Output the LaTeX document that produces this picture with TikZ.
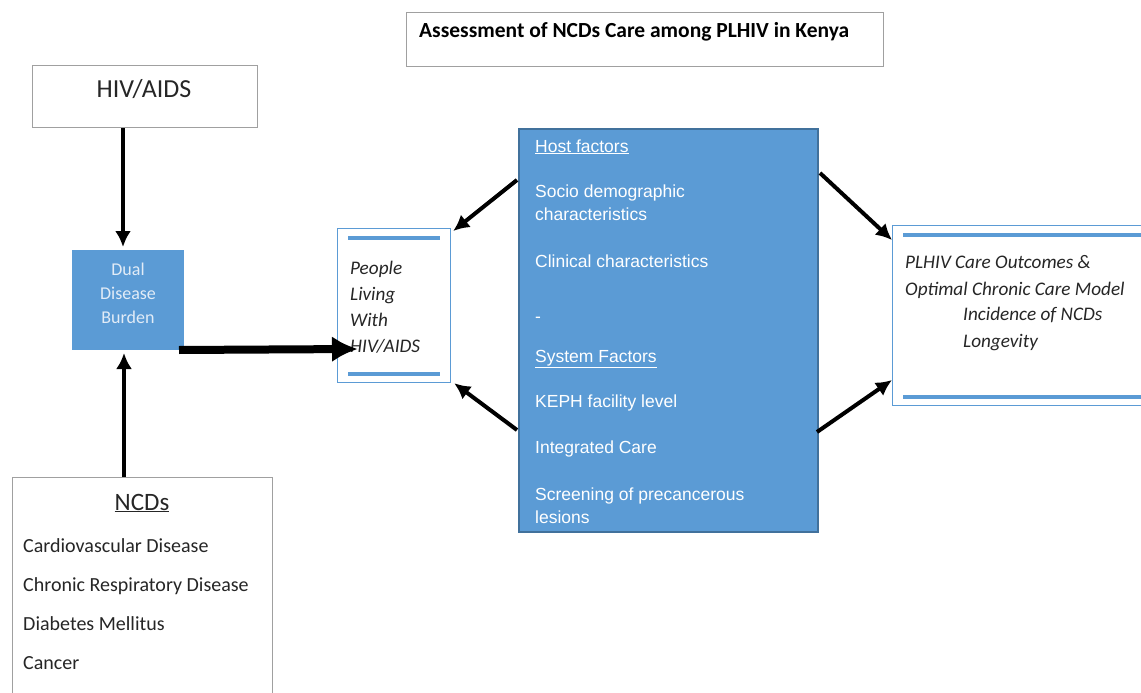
\documentclass[tikz,border=0pt]{standalone}
\usepackage{fontspec}
\setmainfont{Carlito}
\newfontfamily\arialfont{Liberation Sans}
\usetikzlibrary{arrows.meta}
\definecolor{accent}{HTML}{5B9BD5}
\definecolor{accentdark}{HTML}{41719C}
\definecolor{boxgray}{HTML}{A0A0A0}
\definecolor{txtdark}{HTML}{262626}
\definecolor{paleblue}{HTML}{E2ECF7}
\begin{document}
\begin{tikzpicture}[x=1pt,y=-1pt,
  graybox/.style={draw=boxgray, line width=1.2pt, fill=white, anchor=north west, inner sep=0pt},
  linebox/.style={draw=accent, line width=1.2pt, fill=white, anchor=north west, inner sep=0pt},
  bluebox/.style={draw=accentdark, line width=2pt, fill=accent, anchor=north west, inner sep=0pt},
  lbl/.style={anchor=base west, inner sep=0pt, text=txtdark},
  fac/.style={anchor=base west, inner sep=0pt, text=white, font=\arialfont\fontsize{17.5}{20}\selectfont},
  itl/.style={anchor=base west, inner sep=0pt, text=txtdark, font=\fontsize{19.2}{23}\selectfont\itshape},
  ncd/.style={anchor=base west, inner sep=0pt, text=txtdark, font=\fontsize{20}{23}\selectfont},
  arr/.style={-{Latex[length=16pt,width=16pt]}, line width=4pt, black},
  thickarr/.style={-{Latex[length=26pt,width=26pt]}, line width=8pt, black},
  rule/.style={draw=accent, line width=3.5pt}]
\useasboundingbox (0,0) rectangle (1141,693);

% title
\node[graybox, minimum width=477pt, minimum height=54pt] (titlebox) at (406,12) {};
\node[lbl, text=black, font=\fontsize{21.5}{25}\selectfont\bfseries] (title) at (419,38) {Assessment of NCDs Care among PLHIV in Kenya};

% HIV/AIDS
\node[graybox, minimum width=225pt, minimum height=62pt] (hiv) at (32,65) {};
\node[anchor=base, inner sep=0pt, text=txtdark, font=\fontsize{26}{30}\selectfont] (hivtxt) at (144,98) {HIV/AIDS};

% Dual disease burden
\node[draw=accent, line width=1pt, fill=accent, anchor=north west, inner sep=0pt, minimum width=111pt, minimum height=99pt] (dual) at (72,250) {};
\node[anchor=base, inner sep=0pt, text=paleblue, font=\fontsize{18}{22}\selectfont] (d1) at (128,275) {Dual};
\node[anchor=base, inner sep=0pt, text=paleblue, font=\fontsize{18}{22}\selectfont] (d2) at (128,299) {Disease};
\node[anchor=base, inner sep=0pt, text=paleblue, font=\fontsize{18}{22}\selectfont] (d3) at (128,323) {Burden};

% NCDs
\node[graybox, minimum width=260pt, minimum height=230pt] (ncds) at (12,477) {};
\node[anchor=base, inner sep=0pt, text=txtdark, font=\fontsize{25}{29}\selectfont] (ncdtitle) at (142,510) {\underline{NCDs}};
\node[ncd] (n1) at (23,552) {Cardiovascular Disease};
\node[ncd] (n2) at (23,591) {Chronic Respiratory Disease};
\node[ncd] (n3) at (23,630) {Diabetes Mellitus};
\node[ncd] (n4) at (23,669) {Cancer};

% PLWHA
\node[linebox, minimum width=113pt, minimum height=154pt] (plw) at (337,228) {};
\draw[rule] (348,238) -- (440,238);
\draw[rule] (348,374) -- (440,374);
\node[itl] (p1) at (350,274) {People};
\node[itl] (p2) at (350,300) {Living};
\node[itl] (p3) at (350,326) {With};
\node[itl] (p4) at (350,352) {HIV/AIDS};

% central factors box
\node[bluebox, minimum width=299pt, minimum height=403pt] (cent) at (518,128) {};
\node[fac] (f1) at (535,152) {\underline{Host factors}};
\node[fac] (f2) at (535,197) {Socio demographic};
\node[fac] (f3) at (535,220) {characteristics};
\node[fac] (f4) at (535,267) {Clinical characteristics};
\node[fac] (f5) at (535,322) {-};
\node[fac] (f6) at (535,362) {\underline{System Factors}};
\node[fac] (f7) at (535,407) {KEPH facility level};
\node[fac] (f8) at (535,453) {Integrated Care};
\node[fac] (f9) at (535,500) {Screening of precancerous};
\node[fac] (f10) at (535,523) {lesions};

% outcomes
\node[linebox, minimum width=260pt, minimum height=180pt] (out) at (892,225) {};
\draw[rule] (903,235) -- (1150,235);
\draw[rule] (903,397) -- (1150,397);
\node[itl] (o1) at (905,268) {PLHIV Care Outcomes \&};
\node[itl] (o2) at (905,295) {Optimal Chronic Care Model};
\node[itl] (o3) at (963,320) {Incidence of NCDs};
\node[itl] (o4) at (963,347) {Longevity};

% connectors
\coordinate (ax) at (123,0);
\coordinate (bx) at (124,0);
\draw[arr] (hiv.south -| ax) -- ([yshift=3pt]dual.north -| ax);
\draw[arr] (ncds.north -| bx) -- ([yshift=-3pt]dual.south -| bx);
\coordinate (tk) at (358,349);
\draw[thickarr] ([xshift=-5pt]dual.south east) -- (tk);
\coordinate (c1) at (517,180);
\coordinate (c2) at (517,430);
\coordinate (c3) at (820,173);
\coordinate (c4) at (817,432);
\coordinate (t3) at (892,240);
\coordinate (t4) at (892,380);
\draw[arr] (c1) -- ([xshift=2pt,yshift=-3pt]plw.north east);
\draw[arr] (c2) -- ([xshift=3pt]plw.south east);
\draw[arr] (c3) -- (t3);
\draw[arr] (c4) -- (t4);
\end{tikzpicture}
\end{document}
